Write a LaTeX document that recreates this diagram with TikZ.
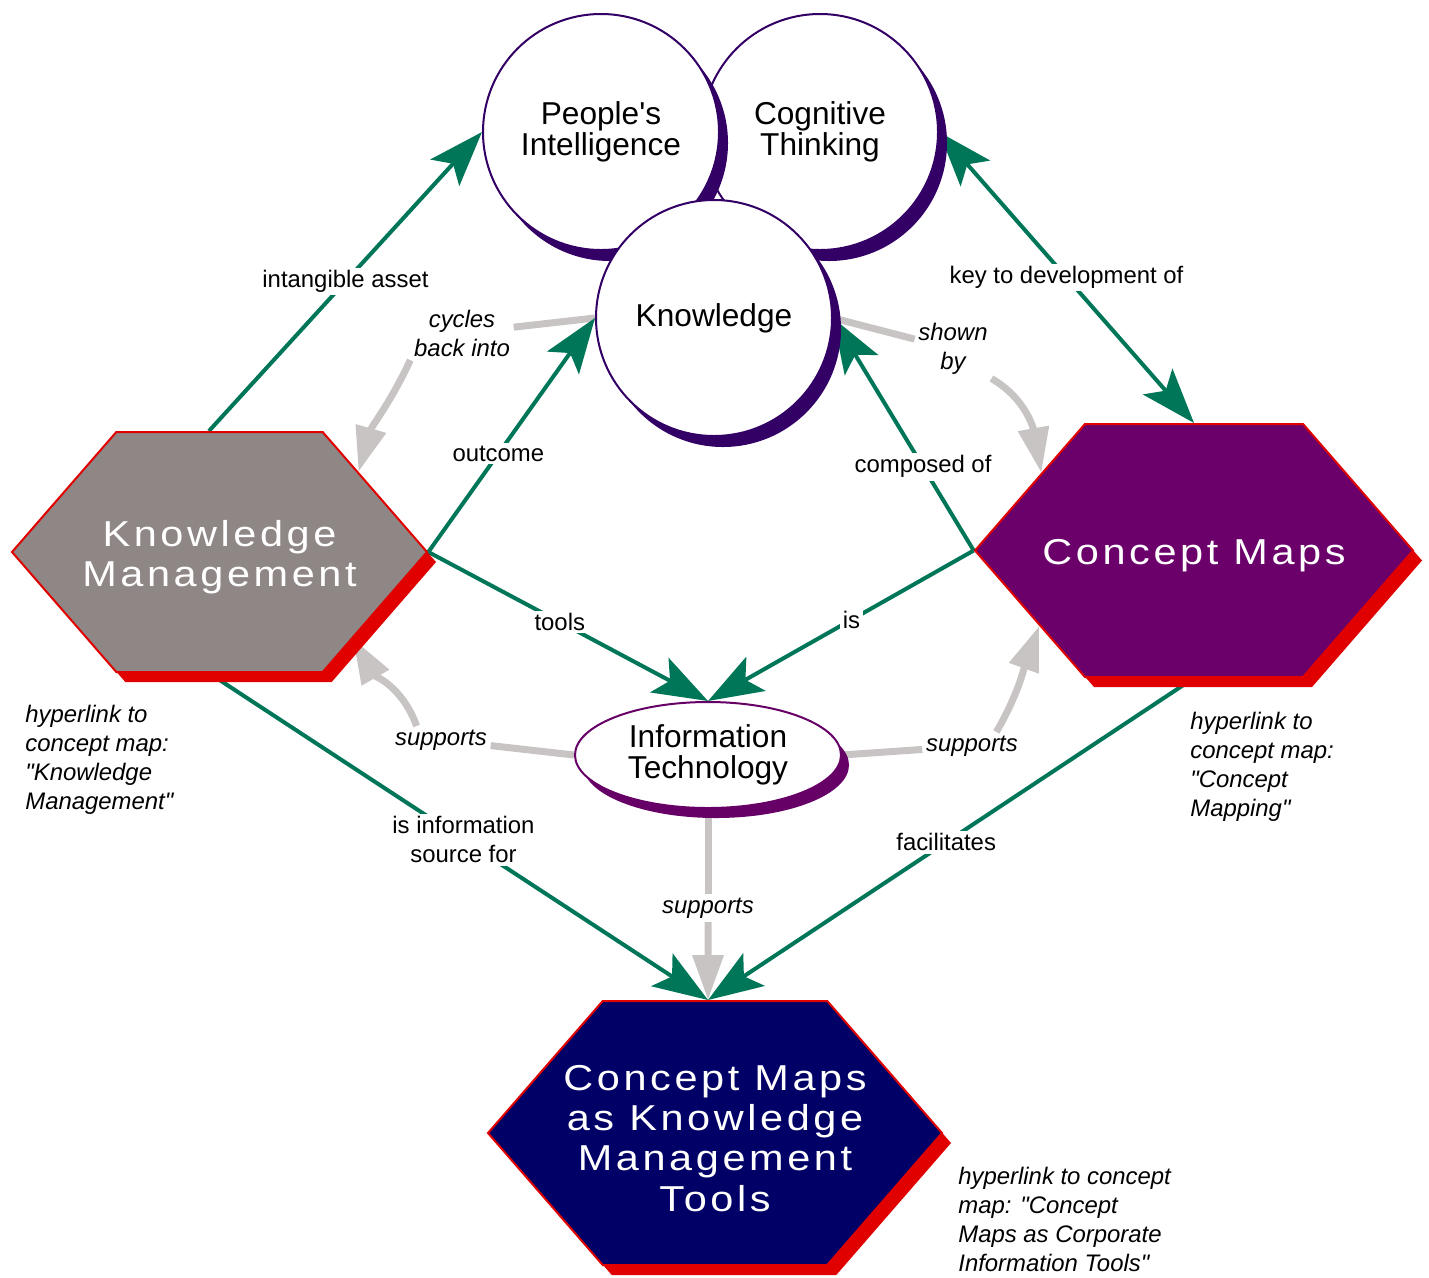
\documentclass[tikz,border=0pt]{standalone}
\usepackage{fontspec}
\setmainfont{Liberation Sans}
\newfontfamily\hexfont[FakeStretch=1.15, LetterSpace=10]{Liberation Sans}
\usepackage{xcolor}
\usetikzlibrary{arrows.meta, positioning, shapes.geometric, shapes.symbols, shadows, backgrounds}

\definecolor{linkgreen}{RGB}{0,118,88}
\definecolor{crossgray}{RGB}{200,196,196}
\definecolor{ringpurple}{RGB}{51,0,102}
\definecolor{itpurple}{RGB}{102,0,102}
\definecolor{kmgray}{RGB}{143,135,134}
\definecolor{cmpurple}{RGB}{107,0,107}
\definecolor{toolnavy}{RGB}{0,0,102}
\definecolor{hexred}{RGB}{224,0,0}

\begin{document}
\begin{tikzpicture}[x=0.2mm, y=-0.2mm,
    >={Stealth[length=11mm, width=7.8mm, inset=2.4mm]},
    concept/.style={circle, draw=ringpurple, line width=0.4mm, fill=white, inner sep=0pt,
        minimum size=47.2mm, align=center, font=\fontsize{18}{17.6}\selectfont,
        drop shadow={shadow xshift=1.8mm, shadow yshift=-2.2mm, fill=ringpurple, opacity=1}},
    tech/.style={ellipse, draw=itpurple, line width=0.4mm, fill=white, inner sep=0pt,
        minimum width=53.2mm, minimum height=21.2mm, align=center, font=\fontsize{18}{17.6}\selectfont,
        drop shadow={shadow xshift=1.6mm, shadow yshift=-2mm, fill=itpurple, opacity=1}},
    hexa/.style={signal, signal to=east and west, signal pointer angle=98, draw=hexred,
        line width=0.4mm, inner sep=0pt,
        drop shadow={shadow xshift=1.8mm, shadow yshift=-2mm, fill=hexred, opacity=1}},
    hextext/.style={text=white, align=center, yshift=-1.1mm, font=\hexfont\fontsize{20.5}{22.8}\selectfont},
    link/.style={draw=linkgreen, line width=0.8mm, ->},
    linklabel/.style={fill=white, inner sep=1.5pt, align=center, font=\fontsize{13.6}{16.5}\selectfont},
    cross/.style={draw=crossgray, line width=1.4mm},
    crossarrow/.style={cross, -{Triangle[length=9mm, width=6mm]}},
    crosslabel/.style={inner sep=2pt, align=center, font=\itshape\fontsize{13.6}{16.5}\selectfont},
    note/.style={anchor=north west, inner sep=0pt, align=left, font=\itshape\fontsize{13.6}{16.5}\selectfont}]

    \useasboundingbox (0,0) rectangle (1429,1277);

    % circles on top
    \node[concept] (cog) at (820,132) {Cognitive\\Thinking};
    \node[concept] (pi) at (601,132) {People\textquotesingle s\\Intelligence};
    \node[concept] (know) at (714,318) {Knowledge};

    \node[tech] (it) at (708,755) {Information\\Technology};

    % hexagons
    \node[hexa, fill=kmgray, minimum width=83mm, minimum height=48mm,
        label={[hextext]center:{Knowledge\\Management}}] (km) at (219.5,552) {};
    \node[hexa, fill=cmpurple, minimum width=87.6mm, minimum height=50.6mm,
        label={[hextext]center:{Concept Maps}}] (cm) at (1194,550.5) {};
    \node[hexa, fill=toolnavy, minimum width=90.8mm, minimum height=52.8mm,
        label={[hextext]center:{Concept Maps\\as Knowledge\\Management\\Tools}}] (bh) at (715,1133) {};

    % labels of the grey links
    \node[crosslabel] (cyc) at (462,333) {cycles\\back into};
    \node[crosslabel] (shown) at (953,349) {shown\\by};
    \node[crosslabel] (sup1) at (441,740) {supports};
    \node[crosslabel] (sup2) at (972,746) {supports};
    \node[crosslabel] (sup3) at (708,908) {supports};

    \begin{scope}[on background layer]
        \draw[cross] (know.west) -- (cyc);
        \draw[crossarrow] (cyc.south west) to[out=245, in=74] (km.30);
        \draw[cross] (know.east) -- (shown);
        \draw[crossarrow] (shown.south east) to[out=-30, in=100] (cm.153);
        \draw[cross] (it.west) -- (sup1);
        \draw[crossarrow] (sup1.150) to[out=110, in=300] (km.-33);
        \draw[cross] (it.east) -- (sup2);
        \draw[crossarrow] (sup2.30) to[out=60, in=250] (cm.206);
        \draw[cross] (it.south) -- (sup3);
        \draw[crossarrow] (sup3) -- (bh.93);

        \draw[link] (km.95) -- node[linklabel, pos=0.5] {intangible asset} (pi.west);
        \draw[link] (km.east) -- node[linklabel, pos=0.42] {outcome} (know.west);
        \draw[link] (km.east) -- node[linklabel, pos=0.47] {tools} (it.north);
        \draw[link] (cm.west) -- node[linklabel, pos=0.36] {composed of} (know.east);
        \draw[link] (cm.west) -- node[linklabel, pos=0.46] {is} (it.north);
        \draw[link, <->] (cog.east) -- node[linklabel, pos=0.5] {key to development of} (cm.north);
        \draw[link] (km.-95) -- node[linklabel, pos=0.51] {is information\\source for} (bh.93);
        \draw[link] (cm.south) -- node[linklabel, pos=0.51] {facilitates} (bh.93);
    \end{scope}

    % hyperlink notes
    \node[note] (kmnote) at (25,705) {hyperlink to\\concept map:\\\textquotedbl Knowledge\\Management\textquotedbl};
    \node[note] (cmnote) at (1190,712) {hyperlink to\\concept map:\\\textquotedbl Concept\\Mapping\textquotedbl};
    \node[note] (bhnote) at (958,1167) {hyperlink to concept\\map: \textquotedbl Concept\\Maps as Corporate\\Information Tools\textquotedbl};
\end{tikzpicture}
\end{document}
